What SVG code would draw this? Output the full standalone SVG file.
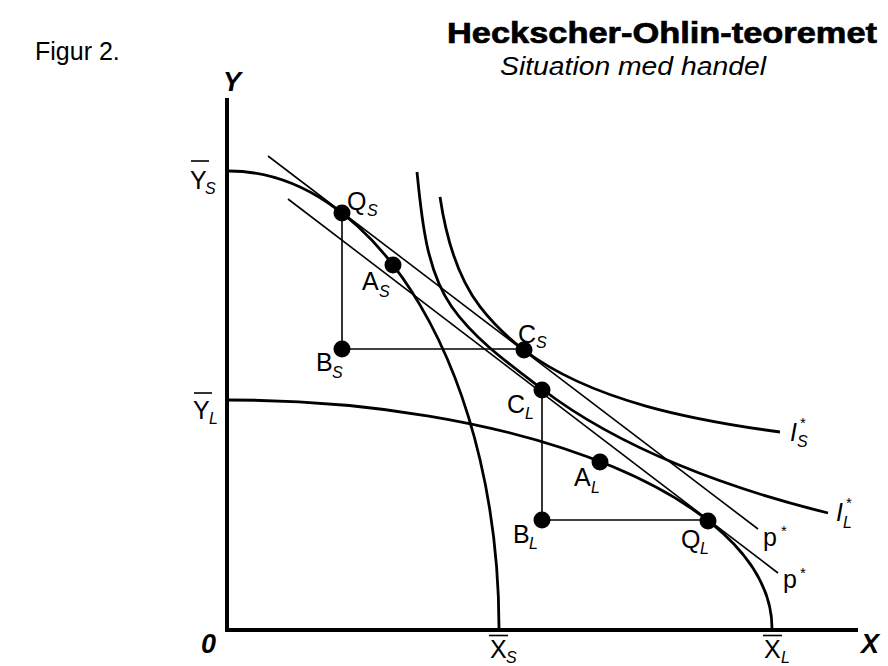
<svg xmlns="http://www.w3.org/2000/svg" width="888" height="666" viewBox="0 0 888 666">
<style>
  text { font-family: "Liberation Sans", Arial, sans-serif; fill: #000; }
  .lbl { font-size: 25px; }
  .sub { font-size: 16px; font-style: italic; }
  .star { font-size: 15px; }
  .ax { font-size: 27px; font-weight: bold; font-style: italic; }
  .axis { stroke: #000; stroke-width: 4; fill: none; }
  .curve { stroke: #000; stroke-width: 2.8; fill: none; }
  .thin { stroke: #000; stroke-width: 1.6; fill: none; }
  .bar { stroke: #000; stroke-width: 1.6; }
  .dot { fill: #000; }
</style>
<rect width="888" height="666" fill="#fff"/>

<g id="titles">
  <text x="35" y="60" font-size="25">Figur 2.</text>
  <text x="447" y="43" font-size="30" font-weight="bold" stroke="#000" stroke-width="0.7" textLength="430" lengthAdjust="spacingAndGlyphs">Heckscher-Ohlin-teoremet</text>
  <text x="500" y="75" font-size="25" font-style="italic" textLength="266" lengthAdjust="spacingAndGlyphs">Situation med handel</text>
</g>

<g id="axes">
  <line class="axis" x1="227" y1="98" x2="227" y2="632"/>
  <line class="axis" x1="225" y1="630" x2="858" y2="630"/>
  <text class="ax" x="223" y="91">Y</text>
  <text class="ax" x="201" y="653">0</text>
  <text class="ax" x="861" y="653">X</text>
</g>

<g id="axis-labels">
  <g id="Ybar-S">
    <line class="bar" x1="191" y1="161" x2="209" y2="161"/>
    <text class="lbl" x="190" y="189">Y</text>
    <text class="sub" x="205" y="194">S</text>
  </g>
  <g id="Ybar-L">
    <line class="bar" x1="194" y1="393" x2="212" y2="393"/>
    <text class="lbl" x="193" y="419">Y</text>
    <text class="sub" x="209" y="424">L</text>
  </g>
  <g id="Xbar-S">
    <line class="bar" x1="489" y1="635.5" x2="508" y2="635.5"/>
    <text class="lbl" x="490" y="658">X</text>
    <text class="sub" x="506" y="663">S</text>
  </g>
  <g id="Xbar-L">
    <line class="bar" x1="763" y1="635.5" x2="782" y2="635.5"/>
    <text class="lbl" x="764" y="658">X</text>
    <text class="sub" x="781" y="663">L</text>
  </g>
</g>

<g id="curves">
  <path id="ppf-S" class="curve" d="M229,171 A270,457 0 0 1 499,628"/>
  <path id="ppf-L" class="curve" d="M229,400 A543,228 0 0 1 772,628"/>
  <path id="indiff-S" class="curve" d="M440,197 C445.6,234.6 456.9,276.6 480,306.7 C492.2,322.6 508.1,337.9 524,350 C592,401.5 695.8,420.6 780,432"/>
  <path id="indiff-L" class="curve" d="M417,172 C421.5,217 425.9,269.8 451.7,306.7 C474.7,339.5 510.2,364.7 542,389 C621.5,449.7 730.9,489.1 828,513"/>
  <line id="price-S" class="thin" x1="268" y1="156" x2="758" y2="529"/>
  <line id="price-L" class="thin" x1="288" y1="199" x2="778" y2="573"/>
</g>

<g id="connectors">
  <line class="thin" x1="342" y1="213" x2="342" y2="349"/>
  <line class="thin" x1="342" y1="349" x2="524" y2="349"/>
  <line class="thin" x1="542" y1="390" x2="542" y2="520"/>
  <line class="thin" x1="542" y1="520" x2="708" y2="520"/>
</g>

<g id="node-QS"><circle class="dot" cx="342" cy="213" r="8.5"/><text class="lbl" x="347" y="210">Q</text><text class="sub" x="367" y="216">S</text></g>
<g id="node-AS"><circle class="dot" cx="393" cy="265" r="8.5"/><text class="lbl" x="362" y="290">A</text><text class="sub" x="379" y="297">S</text></g>
<g id="node-BS"><circle class="dot" cx="342" cy="349" r="8.5"/><text class="lbl" x="316" y="371">B</text><text class="sub" x="332" y="378">S</text></g>
<g id="node-CS"><circle class="dot" cx="524" cy="350" r="8.5"/><text class="lbl" x="518" y="343">C</text><text class="sub" x="536" y="348">S</text></g>
<g id="node-CL"><circle class="dot" cx="542" cy="390" r="8.5"/><text class="lbl" x="507" y="413">C</text><text class="sub" x="525" y="419">L</text></g>
<g id="node-AL"><circle class="dot" cx="600" cy="462" r="8.5"/><text class="lbl" x="574" y="486">A</text><text class="sub" x="591" y="493">L</text></g>
<g id="node-BL"><circle class="dot" cx="542" cy="520" r="8.5"/><text class="lbl" x="513" y="543">B</text><text class="sub" x="529" y="549">L</text></g>
<g id="node-QL"><circle class="dot" cx="708" cy="521" r="8.5"/><text class="lbl" x="681" y="548">Q</text><text class="sub" x="700" y="554">L</text></g>

<g id="curve-labels">
  <g id="lbl-IS"><text class="lbl" x="790" y="441" font-style="italic">I</text><text class="sub" x="797" y="447">S</text><text class="star" x="800" y="428">*</text></g>
  <g id="lbl-IL"><text class="lbl" x="836" y="521" font-style="italic">I</text><text class="sub" x="843" y="528">L</text><text class="star" x="846" y="508">*</text></g>
  <g id="lbl-pS"><text class="lbl" x="763" y="546">p</text><text class="star" x="781" y="536">*</text></g>
  <g id="lbl-pL"><text class="lbl" x="783" y="588">p</text><text class="star" x="800" y="578">*</text></g>
</g>
</svg>
